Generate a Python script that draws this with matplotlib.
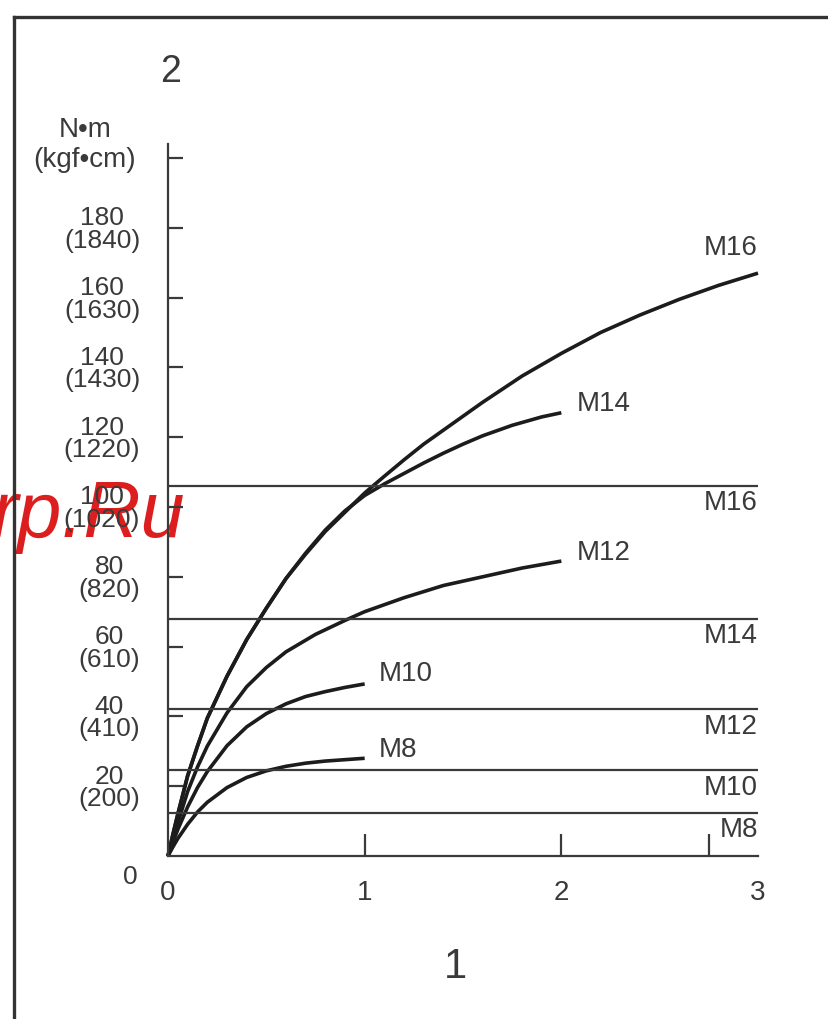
import matplotlib
matplotlib.use("Agg")
import matplotlib.pyplot as plt
from matplotlib.lines import Line2D

plt.rcParams['font.family'] = ['Liberation Sans', 'DejaVu Sans']

INK = '#1c1c1c'
GREY = '#3a3a3a'

# torque curves (N·m) against turns
x_m8 = [0, 0.025, 0.05, 0.1, 0.15, 0.2, 0.3, 0.4, 0.5, 0.6, 0.7, 0.8, 0.9, 1.0]
y_m8 = [0, 2.6, 5.0, 9.1, 12.6, 15.4, 19.6, 22.5, 24.4, 25.7, 26.6, 27.2, 27.6, 28.0]

x_m10 = [0, 0.025, 0.05, 0.1, 0.15, 0.2, 0.3, 0.4, 0.5, 0.6, 0.7, 0.8, 0.9, 1.0]
y_m10 = [0, 3.9, 7.6, 14.1, 19.6, 24.2, 31.6, 37.0, 40.8, 43.6, 45.7, 47.1, 48.3, 49.3]

x_m12 = [0, 0.025, 0.05, 0.1, 0.15, 0.2, 0.3, 0.4, 0.5, 0.6, 0.75, 0.9, 1.0,
         1.2, 1.4, 1.6, 1.8, 2.0]
y_m12 = [0, 5.0, 9.5, 18.5, 25.5, 31.5, 41.0, 48.5, 54.0, 58.5, 63.5, 67.5, 70.0,
         74.0, 77.5, 80.0, 82.5, 84.5]

x_m14 = [0, 0.025, 0.05, 0.1, 0.15, 0.2, 0.3, 0.4, 0.5, 0.6, 0.7, 0.8, 0.9, 1.0,
         1.1, 1.2, 1.3, 1.4, 1.5, 1.6, 1.75, 1.9, 2.0]
y_m14 = [0, 6.2, 12.0, 23.0, 31.5, 39.5, 51.5, 62.0, 71.0, 79.5, 86.8, 93.4, 98.9, 103.3,
         106.6, 109.6, 112.6, 115.4, 118.0, 120.4, 123.4, 125.8, 127.0]

x_m16 = [0, 0.025, 0.05, 0.1, 0.15, 0.2, 0.3, 0.4, 0.5, 0.6, 0.7, 0.8, 0.9, 1.0,
         1.1, 1.2, 1.3, 1.4, 1.6, 1.8, 2.0, 2.2, 2.4, 2.6, 2.8, 3.0]
y_m16 = [0, 6.2, 12.0, 23.0, 31.5, 39.5, 51.5, 62.0, 71.0, 79.5, 86.5, 93.0, 98.5, 104.0,
         108.8, 113.5, 118.0, 122.0, 130.0, 137.5, 144.0, 150.0, 155.0, 159.5, 163.5, 167.0]

curve_names = ['M8', 'M10', 'M12', 'M14', 'M16']
curves_x = [x_m8, x_m10, x_m12, x_m14, x_m16]
curves_y = [y_m8, y_m10, y_m12, y_m14, y_m16]

# limit levels
limit_names = ['M16', 'M14', 'M12', 'M10', 'M8']
limit_values = [106.0, 68.0, 42.0, 24.5, 12.3]

# axis ticks
nm_ticks = [20, 40, 60, 80, 100, 120, 140, 160, 180]
kgf_ticks = [200, 410, 610, 820, 1020, 1220, 1430, 1630, 1840]
turn_ticks = [0, 1, 2, 3]
turn_marks = [1, 2, 2.75]

fig = plt.figure(figsize=(8.29, 10.19), dpi=100)
ax = fig.add_axes([168 / 829, 1 - 856 / 1019, 590 / 829, 712 / 1019])
ax.set_xlim(0, 3)
ax.set_ylim(0, 204)

for xs, ys in zip(curves_x, curves_y):
    ax.plot(xs, ys, color=INK, lw=2.6, solid_capstyle='butt', solid_joinstyle='round',
            clip_on=False)

ax.hlines(limit_values, 0, 3, color=GREY, lw=1.6)

# curve end labels
end_offsets = {'M8': (10, 6), 'M10': (10, 7), 'M12': (11, 6), 'M14': (11, 6), 'M16': (0, 18)}
for name, xs, ys in zip(curve_names, curves_x, curves_y):
    dx, dy = end_offsets[name]
    ha = 'right' if name == 'M16' else 'left'
    ax.annotate(name, (xs[-1], ys[-1]), xytext=(dx, dy), textcoords='offset points',
                ha=ha, va='center', fontsize=20, color=GREY)

for name, val in zip(limit_names, limit_values):
    ax.annotate(name, (3, val), xytext=(0, -3), textcoords='offset points',
                ha='right', va='top', fontsize=20, color=GREY)

for side in ['top', 'right']:
    ax.spines[side].set_visible(False)
for side in ['left', 'bottom']:
    ax.spines[side].set_linewidth(1.6)
    ax.spines[side].set_color(GREY)

ax.set_yticks(nm_ticks + [200])
ax.set_yticklabels([f'{a}\n({b})' for a, b in zip(nm_ticks, kgf_ticks)] + [''],
                   fontsize=19, color=GREY, linespacing=0.92, multialignment='center')
ax.tick_params(axis='y', direction='in', length=11, width=1.6, color=GREY, pad=20)

# labels at whole turns, short marks drawn as minor ticks
ax.xaxis.remove_overlapping_locs = False
ax.set_xticks(turn_ticks)
ax.set_xticklabels([str(t) for t in turn_ticks], fontsize=20, color=GREY)
ax.set_xticks(turn_marks, minor=True)
ax.tick_params(axis='x', which='major', length=0, pad=17)
ax.tick_params(axis='x', which='minor', direction='in', length=16, width=1.6, color=GREY)

ax.annotate('0', (0, 0), xytext=(-27, -15), textcoords='offset points',
            ha='center', va='center', fontsize=19, color=GREY)

# unit caption and axis numbers
fig.text(85 / 829, 1 - 145 / 1019, 'N•m\n(kgf•cm)', ha='center', va='center',
         fontsize=20, color=GREY, linespacing=1.2)
fig.text(171 / 829, 1 - 72 / 1019, '2', ha='center', va='center', fontsize=27, color=GREY)
fig.text(455 / 829, 1 - 967 / 1019, '1', ha='center', va='center', fontsize=30, color=GREY)

# frame
fig.add_artist(Line2D([14 / 829, 14 / 829], [0, 1 - 17 / 1019], color='#333333', lw=2.4,
                      solid_capstyle='projecting'))
fig.add_artist(Line2D([14 / 829, 1], [1 - 17 / 1019, 1 - 17 / 1019], color='#333333', lw=2.4,
                      solid_capstyle='projecting'))

# site mark
ax.text(185 / 829, 1 - 537 / 1019, 'rp.Ru', transform=fig.transFigure, ha='right',
        va='baseline', fontsize=57, style='italic', color='#dd1e1e', zorder=1, clip_on=False)

fig.savefig('out.png', dpi=100)
